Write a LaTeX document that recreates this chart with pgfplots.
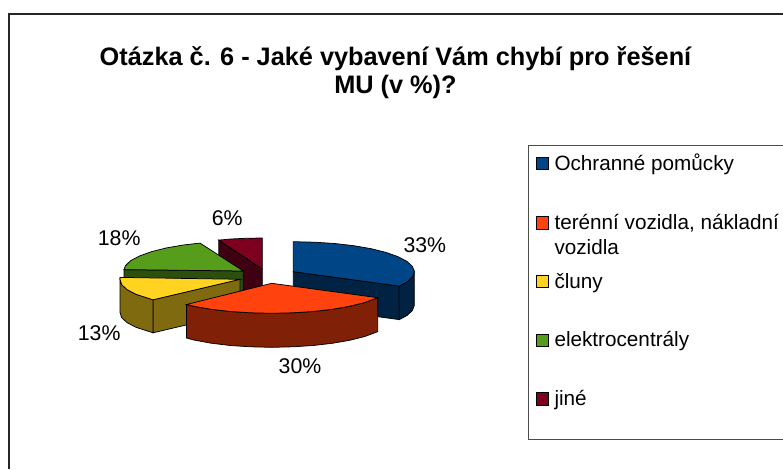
\documentclass[border=0pt]{standalone}
\usepackage{fontspec}
\setmainfont{Liberation Sans}
\usepackage{pgfplots}
\pgfplotsset{compat=1.18}
\definecolor{cB}{HTML}{004586}\definecolor{cBd}{HTML}{002343}
\definecolor{cR}{HTML}{FF420E}\definecolor{cRd}{HTML}{802107}
\definecolor{cY}{HTML}{FFD320}\definecolor{cYd}{HTML}{806A10}
\definecolor{cG}{HTML}{579D1C}\definecolor{cGd}{HTML}{2C4F0E}
\definecolor{cM}{HTML}{7E0021}\definecolor{cMd}{HTML}{3F0011}
\newcommand{\lgf}{\fontsize{20.7}{24}\selectfont}
\newcommand{\pcf}{\fontsize{21.3}{24}\selectfont}
\begin{document}
\begin{tikzpicture}
\begin{axis}[hide axis,scale only axis,width=783pt,height=469pt,
  xmin=0,xmax=783,ymin=0,ymax=469,y dir=reverse,
  every axis plot/.append style={line width=0.75pt,draw=black}]
% page background, which fixes the extent of the picture
\addplot[draw=white,fill=white,line width=0pt] coordinates {(0,0)(783,0)(783,469)(0,469)} -- cycle;
% outer frame
\addplot[line width=1.3pt,draw=black!85] coordinates {(9,469)(9,14)(783,14)};
% legend frame
\addplot[line width=0.8pt,draw=black!70] coordinates {(783,145.7)(528.3,145.7)(528.3,439.3)(783,439.3)};
% maroon
\addplot[fill=cMd] coordinates {(218.8,240.1)(262.3,269)(262.3,302)(218.8,273.1)} -- cycle;
\addplot[fill=cM] coordinates {(218.8,240.1)(231,239)(245.5,238.3)(262.3,238)(262.3,269)} -- cycle;
% blue
\addplot[fill=cBd] coordinates {(293.3,271.7)(399.3,286.1)(399.3,319.6)(293.3,305.2)} -- cycle;
\addplot[fill=cBd] coordinates {(414.3,271.7)(412.5,276.9)(407,282)(399.3,286.1)(399.3,319.6)(407,315.5)(412.5,310.4)(414.3,305.2)} -- cycle;
\addplot[fill=cB] coordinates {(293.3,241.7)(314.3,242.2)(334.7,243.5)(353.8,245.7)(371.1,248.7)(386,252.4)(398.1,256.7)(407,261.4)(412.5,266.5)(414.3,271.7)(412.5,276.9)(407,282)(399.3,286.1)(293.3,271.7)} -- cycle;
% green
\addplot[fill=cGd] coordinates {(124,269.6)(243.3,271)(243.3,304)(124,302.6)} -- cycle;
\addplot[fill=cG] coordinates {(124,269.6)(125.4,265.8)(130.6,260.7)(139.5,256)(151.3,251.7)(166,248)(183.2,245)(200,243.1)(243.3,271)} -- cycle;
% yellow
\addplot[fill=cYd] coordinates {(153,299.8)(240,279.3)(240,312.3)(153,332.8)} -- cycle;
\addplot[fill=cYd] coordinates {(153,299.8)(136,294.3)(127,289.6)(121.6,284.5)(120,279.3)(120,312.3)(121.6,317.5)(127,322.6)(136,327.3)(153,332.8)} -- cycle;
\addplot[fill=cY] coordinates {(153,299.8)(136,294.3)(127,289.6)(121.6,284.5)(120,279.3)(120.2,277.4)(240,279.3)} -- cycle;
% red
\addplot[fill=cRd] coordinates {(377.7,297.7)(364.4,302.6)(349.5,306.3)(332.2,309.3)(313.1,311.5)(292.7,312.8)(271.7,313.3)(250.7,312.8)(230.3,311.5)(211.2,309.3)(193.9,306.3)(186.5,304.5)(186.5,338)(193.9,340)(211.2,343.2)(230.3,345.5)(250.7,346.8)(271.7,347.3)(292.7,346.8)(313.1,345.5)(332.2,343.3)(349.5,340.3)(364.4,336.6)(377.7,331.7)} -- cycle;
\addplot[fill=cR] coordinates {(377.7,297.7)(364.4,302.6)(349.5,306.3)(332.2,309.3)(313.1,311.5)(292.7,312.8)(271.7,313.3)(250.7,312.8)(230.3,311.5)(211.2,309.3)(193.9,306.3)(186.5,304.5)(271.7,283.3)} -- cycle;
% legend swatches
\addplot[fill=cB] coordinates {(536,157)(548.3,157)(548.3,169.5)(536,169.5)} -- cycle;
\addplot[fill=cR] coordinates {(536,216.7)(548.3,216.7)(548.3,229)(536,229)} -- cycle;
\addplot[fill=cY] coordinates {(536,275.3)(548.3,275.3)(548.3,287.6)(536,287.6)} -- cycle;
\addplot[fill=cG] coordinates {(536,334)(548.3,334)(548.3,346.5)(536,346.5)} -- cycle;
\addplot[fill=cM] coordinates {(536,392.7)(548.3,392.7)(548.3,405)(536,405)} -- cycle;
% texts
\node[anchor=base,font=\fontsize{25.3}{27}\selectfont\bfseries,inner sep=0pt] at (axis cs:395.5,65) {Otázka č. 6 - Jaké vybavení Vám chybí pro řešení};
\node[anchor=base,font=\fontsize{25.3}{27}\selectfont\bfseries,inner sep=0pt] at (axis cs:395.5,93) {MU (v \%)?};
\node[anchor=base west,font=\lgf,inner sep=0pt] at (axis cs:554.3,170.7) {Ochranné pomůcky};
\node[anchor=base west,font=\lgf,inner sep=0pt] at (axis cs:554.3,229) {terénní vozidla, nákladní};
\node[anchor=base west,font=\lgf,inner sep=0pt] at (axis cs:554.3,254.3) {vozidla};
\node[anchor=base west,font=\lgf,inner sep=0pt] at (axis cs:554.3,288.3) {čluny};
\node[anchor=base west,font=\lgf,inner sep=0pt] at (axis cs:554.3,346.7) {elektrocentrály};
\node[anchor=base west,font=\lgf,inner sep=0pt] at (axis cs:554.3,405.3) {jiné};
\node[anchor=base west,font=\pcf,inner sep=0pt] at (axis cs:403.3,252) {33\%};
\node[anchor=base west,font=\pcf,inner sep=0pt] at (axis cs:278.5,373.5) {30\%};
\node[anchor=base east,font=\pcf,inner sep=0pt] at (axis cs:120.7,340) {13\%};
\node[anchor=base east,font=\pcf,inner sep=0pt] at (axis cs:140.7,245.5) {18\%};
\node[anchor=base west,font=\pcf,inner sep=0pt] at (axis cs:211.7,225) {6\%};
\end{axis}
\path (0,0) rectangle (783pt,469pt);
\end{tikzpicture}
\end{document}
